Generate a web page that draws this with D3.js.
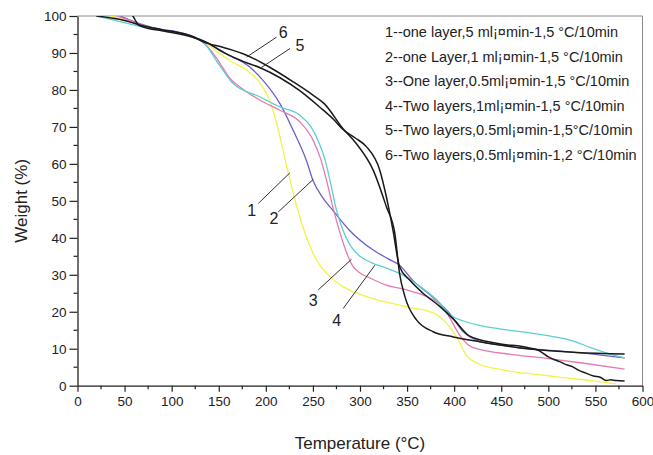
<!DOCTYPE html>
<html><head><meta charset="utf-8">
<script src="https://cdn.jsdelivr.net/npm/d3@7"></script>
<style>body{margin:0;background:#fff}svg{display:block}</style>
</head><body>
<script>
// ---- data ----
const xTicks = [0,50,100,150,200,250,300,350,400,450,500,550,600];
const yTicks = [0,10,20,30,40,50,60,70,80,90,100];
const legendLabels = [
  "1--one layer,5 ml\u00a1\u00a4min-1,5 \u00b0C/10min",
  "2--one Layer,1 ml\u00a1\u00a4min-1,5 \u00b0C/10min",
  "3--One layer,0.5ml\u00a1\u00a4min-1,5 \u00b0C/10min",
  "4--Two layers,1ml\u00a1\u00a4min-1,5 \u00b0C/10min",
  "5--Two layers,0.5ml\u00a1\u00a4min-1,5\u00b0C/10min",
  "6--Two layers,0.5ml\u00a1\u00a4min-1,2 \u00b0C/10min"
];
const curve1 = [[35,100],[50,99],[70,97.5],[90,96.2],[123,94.3],[140,92],[151,89.8],[165,87.5],[180,85.3],[194,81.8],[204,77.2],[211.5,71],[222,59.5],[231,50.2],[240,42.5],[247,37.6],[255,33.5],[265,30.3],[282,26.8],[307,24.1],[342,21.8],[356,21],[371,20.3],[385,18.6],[395,16],[403,13],[413,8.2],[427,5.8],[445,4.6],[462,3.8],[490,3],[515,2.2],[545,1.4],[572,0.5]];
const curve2 = [[45,100],[60,98.5],[70,97.6],[90,96.3],[105,95.8],[123,94.4],[140,92.5],[158,89.8],[183,86.2],[197,82.6],[215,76.3],[229,69.1],[243,61],[250,55.6],[260,51],[271,47.5],[289,42],[314,36.7],[330,34.3],[342,32.6],[356,28.5],[377,24],[395,19.6],[410,14.5],[427,12],[450,11],[480,10],[515,9.3],[550,8.5],[581,7.5]];
const curve3 = [[42,100],[55,98.8],[70,97.4],[90,96.1],[123,94.3],[133,93],[148,88.5],[162,83.1],[172.5,80.8],[194,77.2],[215,74.5],[236,71.4],[250,66.5],[258,61.5],[265,55],[271,48.5],[278,42],[285,36.5],[292,32.5],[300,30.5],[310,29.2],[328,27.2],[349.5,25.9],[371,24.1],[385,22],[395,18.5],[405,14],[415,11],[427,9.8],[460,8.5],[498,7.4],[540,6],[581,4.5]];
const curve4 = [[20,100],[40,98.8],[70,97],[90,96],[123,94.3],[135,92.5],[150,87],[165,81.8],[194,78.1],[215,75.4],[236,73.2],[248,70],[256,66],[263,61],[269,54.5],[275,47.5],[282,42],[290,37.8],[300,35],[312,33.3],[328,31.8],[342,30.4],[364,26.8],[385,22.3],[395,19.3],[410,17.5],[427,16.3],[450,15.3],[480,14.3],[505,13.3],[525,12.2],[545,10.3],[560,9],[581,7.5]];
const curve5 = [[55,101.5],[60,99.5],[64,97.8],[70,97],[90,96],[123,94.2],[140,92.5],[151,90.7],[175,87.8],[194,86],[215,83.3],[236,79.8],[257,75.4],[272,72],[282,69.3],[295,67],[307,64.6],[321,58.3],[328,51.1],[335,42.1],[342,32.2],[353,28.5],[367,25],[385,21.4],[400,17.8],[416,13.5],[445,11.5],[480,10.2],[490,9.5],[500,7.8],[505,7.2],[512,6.5],[520,5.6],[526,5.1],[532,4.2],[540,3.4],[548,2.6],[555,2.3],[562,1.4],[566,1.6],[572,1.4],[581,1.3]];
const curve6 = [[20,100],[50,98.8],[70,97.3],[90,96.3],[123,94.4],[133.5,93],[155,91.5],[179.6,89.4],[205,86],[229,82.2],[250,78.6],[262,76.3],[282,69.5],[296,65.5],[314,58.3],[328,48.4],[337,41.2],[342,30.4],[347.7,24.1],[360,17.8],[377.7,14.6],[399,13.2],[427,11.9],[480,9.9],[530,9],[581,8.6]];
const seriesData = [curve1, curve2, curve3, curve4, curve5, curve6];
const seriesColors = ["#f2f24a", "#6c5fc8", "#e878b4", "#5ccfd2", "#1a1a1a", "#1a1a1a"];
const seriesWidths = [1.3, 1.3, 1.3, 1.3, 1.5, 1.5];
// number annotations: [label, labelT, labelW, fromT, fromW, toT, toW]
const annotations = [
  ["1", 185, 47.5, 192, 49.3, 225.6, 57.6],
  ["2", 208.6, 45.2, 213.2, 47, 250.3, 55.8],
  ["3", 250.3, 23.2, 255.6, 25.9, 291, 34.2],
  ["4", 275.2, 17.8, 282.2, 20.9, 315.8, 32.6],
  ["5", 236.2, 92.1, 225.6, 91.2, 193.7, 85.8],
  ["6", 218.5, 95.7, 211.5, 94.3, 179.6, 88.9]
];

// ---- chart ----
const W = 653, H = 455;
const m = {left: 77.5, right: 10.5, top: 16, bottom: 69.3};
const svg = d3.select("body").append("svg").attr("width", W).attr("height", H);
const x = d3.scaleLinear().domain([0, 600]).range([m.left, W - m.right]);
const y = d3.scaleLinear().domain([0, 100]).range([H - m.bottom, m.top]);
const font = "Liberation Sans, Arial, sans-serif";

svg.append("defs").append("clipPath").attr("id", "clip")
  .append("rect").attr("x", x(0)).attr("y", y(100)).attr("width", x(600) - x(0)).attr("height", y(0) - y(100));

// frame top/right
svg.append("line").attr("x1", x(0)).attr("x2", x(600)).attr("y1", y(100)).attr("y2", y(100)).attr("stroke", "#8a8a8a").attr("stroke-width", 1);
svg.append("line").attr("x1", x(600)).attr("x2", x(600)).attr("y1", y(100)).attr("y2", y(0)).attr("stroke", "#8a8a8a").attr("stroke-width", 1);

// axes
const xAxis = svg.append("g").attr("transform", `translate(0,${y(0)})`)
  .call(d3.axisBottom(x).tickValues(xTicks).tickSize(6).tickSizeOuter(0).tickPadding(5).tickFormat(d3.format("d")));
const yAxis = svg.append("g").attr("transform", `translate(${x(0)},0)`)
  .call(d3.axisLeft(y).tickValues(yTicks).tickSize(8).tickSizeOuter(0).tickPadding(3).tickFormat(d3.format("d")));
[xAxis, yAxis].forEach(g => {
  g.select(".domain").attr("stroke", "#222").attr("stroke-width", 1.3);
  g.selectAll(".tick line").attr("stroke", "#222").attr("stroke-width", 1.2);
  g.selectAll(".tick text").attr("font-family", font).attr("font-size", 13.5).attr("fill", "#222");
});
// minor ticks
const xMinor = d3.range(25, 600, 50);
svg.append("g").selectAll("line").data(xMinor).join("line")
  .attr("x1", d => x(d)).attr("x2", d => x(d)).attr("y1", y(0)).attr("y2", y(0) + 3.5)
  .attr("stroke", "#222").attr("stroke-width", 1.2);
const yMinor = d3.range(5, 100, 10);
svg.append("g").selectAll("line").data(yMinor).join("line")
  .attr("x1", x(0) - 4).attr("x2", x(0)).attr("y1", d => y(d)).attr("y2", d => y(d))
  .attr("stroke", "#222").attr("stroke-width", 1.2);

// axis titles
svg.append("text").attr("x", (x(0) + x(600)) / 2).attr("y", 449).attr("text-anchor", "middle")
  .attr("font-family", font).attr("font-size", 17).attr("fill", "#222").text("Temperature (\u00b0C)");
svg.append("text").attr("transform", `translate(27,${y(50)}) rotate(-90)`).attr("text-anchor", "middle")
  .attr("font-family", font).attr("font-size", 17).attr("fill", "#222").text("Weight (%)");

// curves
const line = d3.line().x(d => x(d[0])).y(d => y(d[1])).curve(d3.curveMonotoneX);
svg.append("g").attr("clip-path", "url(#clip)").selectAll("path").data(seriesData).join("path")
  .attr("d", line).attr("fill", "none")
  .attr("stroke", (d, i) => seriesColors[i]).attr("stroke-width", (d, i) => seriesWidths[i])
  .attr("stroke-linejoin", "round");

// annotations
const ann = svg.append("g");
ann.selectAll("line").data(annotations).join("line")
  .attr("x1", d => x(d[3])).attr("y1", d => y(d[4])).attr("x2", d => x(d[5])).attr("y2", d => y(d[6]))
  .attr("stroke", "#333").attr("stroke-width", 1);
ann.selectAll("text").data(annotations).join("text")
  .attr("x", d => x(d[1])).attr("y", d => y(d[2])).attr("dy", "0.36em").attr("text-anchor", "middle")
  .attr("font-family", font).attr("font-size", 16).attr("fill", "#222").text(d => d[0]);

// legend
svg.append("g").selectAll("text").data(legendLabels).join("text")
  .attr("x", 385).attr("y", (d, i) => 32 + i * 24.5).attr("dy", "0.36em")
  .attr("font-family", font).attr("font-size", 14.5).attr("fill", "#222").text(d => d);
</script>
</body></html>
